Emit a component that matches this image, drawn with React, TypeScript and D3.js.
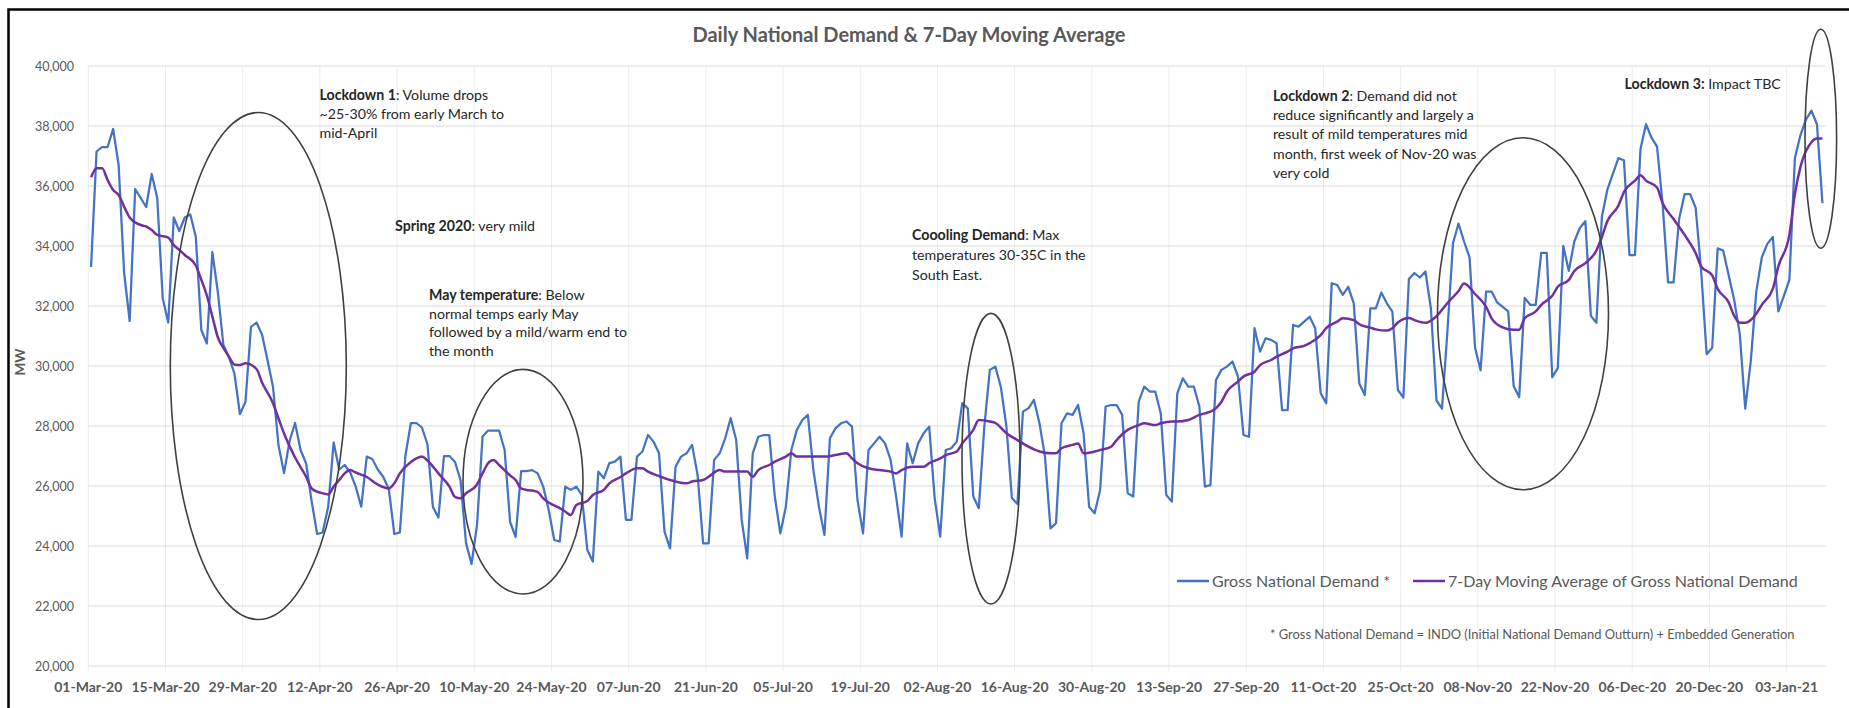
import React from 'react';
import * as d3 from 'd3';

const W = 1849;
const H = 708;

// Gross National Demand (MW), one value per day starting 01-Mar-20
const grossDemand = [
  33300, 37150, 37300, 37300, 37900, 36700, 33100,
  31500, 35900, 35600, 35300, 36400, 35600, 32250,
  31450, 34950, 34500, 34950, 35050, 34300, 31200,
  30750, 33800, 32450, 30700, 30300, 29750, 28400,
  28800, 31300, 31450, 31050, 30200, 29300, 27350,
  26430, 27500, 28100, 27200, 26750, 25500, 24400,
  24450, 25300, 27450, 26550, 26700, 26450, 25980,
  25310, 26980, 26900, 26550, 26300, 25900, 24400,
  24450, 27000, 28100, 28100, 27950, 27400, 25300,
  24950, 27000, 27000, 26800, 26200, 24100, 23400,
  24700, 27650, 27850, 27850, 27850, 27200, 24800,
  24300, 26500, 26500, 26530, 26420, 25980, 25200,
  24200, 24150, 25980, 25870, 25980, 25700, 23870,
  23480, 26480, 26260, 26760, 26810, 26980, 24870,
  24870, 26980, 27150, 27700, 27480, 27090, 24480,
  23920, 26640, 26980, 27090, 27370, 26370, 24090,
  24090, 26870, 27090, 27590, 28260, 27530, 24870,
  23590, 27090, 27640, 27700, 27700, 25650, 24420,
  25300, 27200, 27870, 28200, 28370, 26530, 25310,
  24370, 27590, 27920, 28090, 28150, 27980, 25530,
  24420, 27200, 27420, 27640, 27420, 26870, 25650,
  24310, 27420, 26760, 27420, 27760, 27980, 25590,
  24310, 27200, 27260, 27480, 28760, 28590, 25650,
  25260, 27980, 29870, 29980, 29300, 28000, 25600,
  25400, 28480, 28590, 28870, 28090, 26980, 24590,
  24760, 28090, 28420, 28370, 28700, 27760, 25310,
  25090, 25870, 28650, 28700, 28700, 28370, 25760,
  25650, 28810, 29310, 29150, 29150, 28420, 25700,
  25480, 29090, 29590, 29310, 29310, 28650, 25980,
  26030, 29530, 29870, 29980, 30150, 29650, 27700,
  27640, 31260, 30480, 30920, 30870, 30760, 28530,
  28530, 31370, 31310, 31480, 31640, 31260, 29090,
  28760, 32760, 32700, 32370, 32640, 32090, 29420,
  29030, 31920, 31920, 32450, 32090, 31810, 29200,
  28950, 32900, 33100, 32950, 33150, 31900, 28850,
  28580, 31200, 34100, 34750, 34150, 33620, 30610,
  29860, 32480, 32480, 32120, 31970, 31820, 29330,
  28960, 32270, 32040, 32040, 33770, 33770, 29630,
  29930, 34000, 33170, 34150, 34600, 34830, 31670,
  31440, 34980, 35880, 36410, 36930, 36860, 33700,
  33700, 37230, 38060, 37610, 37310, 35430, 32790,
  32790, 34900, 35730, 35730, 35280, 33170, 30390,
  30610, 33920, 33850, 33020, 32190, 31070, 28580,
  30160, 32480, 33620, 34070, 34300, 31820, 32340,
  32870, 36930, 37690, 38210, 38510, 38060, 35430,
];

// 7-day moving average: day offset from 01-Mar-20 and MW
const maDays = [
  0, 1, 2, 3, 4, 5, 6, 7, 9, 10, 11, 12, 14, 15, 16, 17, 19, 20, 21, 22, 23, 24, 25, 26, 27, 28,
  30, 31, 33, 34, 35, 37, 39, 40, 41, 42, 43, 44, 45, 46, 47, 48, 50, 52, 54, 55, 56, 58, 59, 60,
  61, 63, 65, 66, 67, 68, 70, 71, 72, 73, 74, 76, 77, 78, 79, 80, 81, 82, 83, 85, 86, 87, 88, 90,
  91, 93, 94, 96, 97, 99, 100, 101, 103, 105, 106, 108, 109, 111, 112, 114, 115, 117, 119, 120,
  121, 123, 124, 126, 127, 128, 130, 132, 133, 135, 137, 138, 139, 141, 143, 145, 146, 147, 149,
  151, 152, 154, 155, 157, 158, 160, 161, 163, 164, 166, 168, 170, 172, 174, 175, 176, 178, 179,
  180, 182, 183, 185, 186, 188, 190, 191, 193, 194, 196, 197, 199, 201, 202, 204, 205, 206, 208,
  209, 211, 212, 214, 215, 217, 218, 220, 221, 223, 224, 226, 227, 229, 230, 232, 233, 235, 236,
  237, 239, 240, 242, 244, 246, 248, 249, 251, 253, 254, 256, 258, 259, 260, 262, 263, 265, 266,
  268, 269, 271, 273, 274, 275, 277, 278, 280, 281, 282, 284, 285, 287, 289, 291, 292, 294, 295,
  297, 298, 299, 300, 302, 303, 305, 306, 308, 309, 310, 312, 313, 314,
];
const maValues = [
  36290, 36590, 36590, 36200, 35870, 35700, 35310, 34950, 34700, 34650, 34530, 34370, 34280, 34030,
  33870, 33700, 33350, 32870, 32350, 31650, 30950, 30600, 30310, 30050, 30030, 30090,
  29900, 29450, 28760, 28250, 27750, 26950, 26310, 25920, 25810, 25760, 25720, 25980, 26200, 26420,
  26530, 26450, 26300, 26050, 25920, 26090, 26420, 26800, 26920, 26980,
  26850, 26420, 25980, 25640, 25590, 25760, 26050, 26420, 26760, 26870, 26700, 26350, 26200, 25920,
  25870, 25850, 25800, 25590, 25450, 25260, 25150, 25030, 25370, 25500,
  25700, 25870, 26090, 26300, 26420, 26590, 26590, 26480, 26330, 26200, 26150, 26090, 26150, 26200,
  26310, 26530, 26480, 26480, 26480, 26310,
  26530, 26700, 26810, 26980, 27090, 26980, 26980, 26980, 26980, 27030, 27090, 26920, 26760, 26590,
  26530, 26480, 26420, 26530, 26640,
  26640, 26760, 26920, 27030, 27150, 27420, 27870, 28200, 28150, 28100, 27760, 27530, 27310, 27150,
  27090, 27090, 27260, 27370, 27420,
  27090, 27150, 27200, 27310, 27530, 27870, 28030, 28090, 28030, 28090, 28150, 28150, 28200, 28370,
  28420, 28590, 28810, 29150, 29480,
  29650, 29810, 30030, 30200, 30310, 30480, 30590, 30670, 30760, 31030, 31260, 31480, 31590, 31530,
  31390, 31280, 31220, 31180, 31260,
  31450, 31600, 31530, 31440, 31660, 32100, 32500, 32750, 32400, 31970, 31590, 31290, 31210, 31210,
  31590, 31820, 32040, 32340, 32640,
  32870, 33170, 33430, 33850, 34300, 34830, 35350, 35800, 36180, 36360, 36180, 35950, 35430, 34900,
  34370, 33770, 33320, 33020, 32570,
  32120, 31670, 31440, 31440, 31740, 32040, 32570, 33320, 34370, 35730, 36630, 37460, 37580, 37580,
];

const yTicks = [20000, 22000, 24000, 26000, 28000, 30000, 32000, 34000, 36000, 38000, 40000];
const xTickLabels = [
  '01-Mar-20', '15-Mar-20', '29-Mar-20', '12-Apr-20', '26-Apr-20', '10-May-20', '24-May-20',
  '07-Jun-20', '21-Jun-20', '05-Jul-20', '19-Jul-20', '02-Aug-20', '16-Aug-20', '30-Aug-20',
  '13-Sep-20', '27-Sep-20', '11-Oct-20', '25-Oct-20', '08-Nov-20', '22-Nov-20', '06-Dec-20',
  '20-Dec-20', '03-Jan-21',
];

const FONT = "Lato, 'Open Sans', sans-serif";
const GREY = '#595959';
const BLUE = '#4472C4';
const PURPLE = '#7030A0';

// annotation text blocks: [bold lead, rest] per line
const notes = [
  { x: 319.5, y: 100, dy: 19, lines: [['Lockdown 1', ': Volume drops'], ['', '~25-30% from early March to'], ['', 'mid-April']] },
  { x: 395, y: 231, dy: 19, lines: [['Spring 2020', ': very mild']] },
  { x: 429, y: 300, dy: 18.7, lines: [['May temperature', ': Below'], ['', 'normal temps early May'], ['', 'followed by a mild/warm end to'], ['', 'the month']] },
  { x: 912, y: 240, dy: 20, lines: [['Coooling Demand', ': Max'], ['', 'temperatures 30-35C in the'], ['', 'South East.']] },
  { x: 1273, y: 101, dy: 19.2, lines: [['Lockdown 2', ': Demand did not'], ['', 'reduce significantly and largely a'], ['', 'result of mild temperatures mid'], ['', 'month, first week of Nov-20 was'], ['', 'very cold']] },
  { x: 1624.5, y: 89, dy: 19, lines: [['Lockdown 3:', ' Impact TBC']] },
];

const ellipses = [
  { cx: 258.3, cy: 366, rx: 88, ry: 253.5 },
  { cx: 523, cy: 481.7, rx: 60, ry: 112.3 },
  { cx: 991, cy: 458.7, rx: 29, ry: 145.3 },
  { cx: 1523, cy: 313.8, rx: 85.5, ry: 176 },
  { cx: 1820.8, cy: 138.8, rx: 15.8, ry: 109.5 },
];

export default function App() {
  const start = Date.UTC(2020, 2, 1);
  const dayMs = 864e5;
  const nDays = grossDemand.length;
  const left = 88.3;
  const right = left + nDays * 5.514;

  const x = d3.scaleUtc().domain([new Date(start), new Date(start + nDays * dayMs)]).range([left, right]);
  const y = d3.scaleLinear().domain([20000, 40000]).range([666, 66]);
  const mid = (d: number) => x(new Date(start + (d + 0.5) * dayMs));

  const parse = d3.utcParse('%d-%b-%y');
  const fmt = d3.format(',');

  const demandLine = d3.line<number>().x((_, i) => mid(i)).y((v) => y(v))(grossDemand) || '';
  const maLine =
    d3.line<number>().x((_, i) => mid(maDays[i])).y((v) => y(v)).curve(d3.curveMonotoneX)(maValues) || '';

  return (
    <svg
      width={W}
      height={H}
      style={{ position: 'absolute', left: 0, top: 0, background: '#fff' }}
      fontFamily={FONT}
    >
      <rect x={0} y={0} width={W} height={H} fill="#fff" />
      <path d={`M8.5,${H} V9.5 H${W}`} fill="none" stroke="#000" strokeWidth={2.5} />

      <text x={909} y={42} textAnchor="middle" fontSize={20} fontWeight="bold" fill={GREY}>
        Daily National Demand &amp; 7-Day Moving Average
      </text>

      {xTickLabels.map((t) => {
        const px = x(parse(t) as Date);
        return <line key={'v' + t} x1={px} x2={px} y1={y(40000)} y2={y(20000) + 5} stroke="#ececec" />;
      })}
      {yTicks.map((v) => (
        <line key={'h' + v} x1={left} x2={right} y1={y(v)} y2={y(v)} stroke="#d9d9d9" />
      ))}

      {yTicks.map((v) => (
        <text key={'yl' + v} x={74} y={y(v) + 4.5} textAnchor="end" fontSize={12.5} fill={GREY}>
          {fmt(v)}
        </text>
      ))}
      {xTickLabels.map((t) => (
        <text key={'xl' + t} x={x(parse(t) as Date)} y={692} textAnchor="middle" fontSize={14} fontWeight="bold" fill={GREY}>
          {t}
        </text>
      ))}
      <text transform="translate(25,362) rotate(-90)" textAnchor="middle" fontSize={13.5} fontWeight="bold" fill={GREY}>
        MW
      </text>

      <path d={demandLine} fill="none" stroke={BLUE} strokeWidth={2.25} strokeLinejoin="round" />
      <path d={maLine} fill="none" stroke={PURPLE} strokeWidth={2.5} strokeLinejoin="round" />

      {ellipses.map((e, i) => (
        <ellipse key={i} cx={e.cx} cy={e.cy} rx={e.rx} ry={e.ry} fill="none" stroke="#404040" strokeWidth={1.6} />
      ))}

      {notes.map((n, i) => (
        <text key={i} fontSize={14.2} fill="#262626">
          {n.lines.map((l, j) => (
            <tspan key={j} x={n.x} y={n.y + j * n.dy}>
              {l[0] && <tspan fontWeight="bold">{l[0]}</tspan>}
              <tspan>{l[1]}</tspan>
            </tspan>
          ))}
        </text>
      ))}

      <line x1={1177} x2={1209} y1={581} y2={581} stroke={BLUE} strokeWidth={2.5} />
      <text x={1212} y={586.5} fontSize={16} fill={GREY}>Gross National Demand *</text>
      <line x1={1413} x2={1445} y1={581} y2={581} stroke={PURPLE} strokeWidth={2.5} />
      <text x={1448} y={586.5} fontSize={16} fill={GREY}>7-Day Moving Average of Gross National Demand</text>

      <text x={1270} y={639} fontSize={12.9} fill={GREY}>
        * Gross National Demand = INDO (Initial National Demand Outturn) + Embedded Generation
      </text>
    </svg>
  );
}
